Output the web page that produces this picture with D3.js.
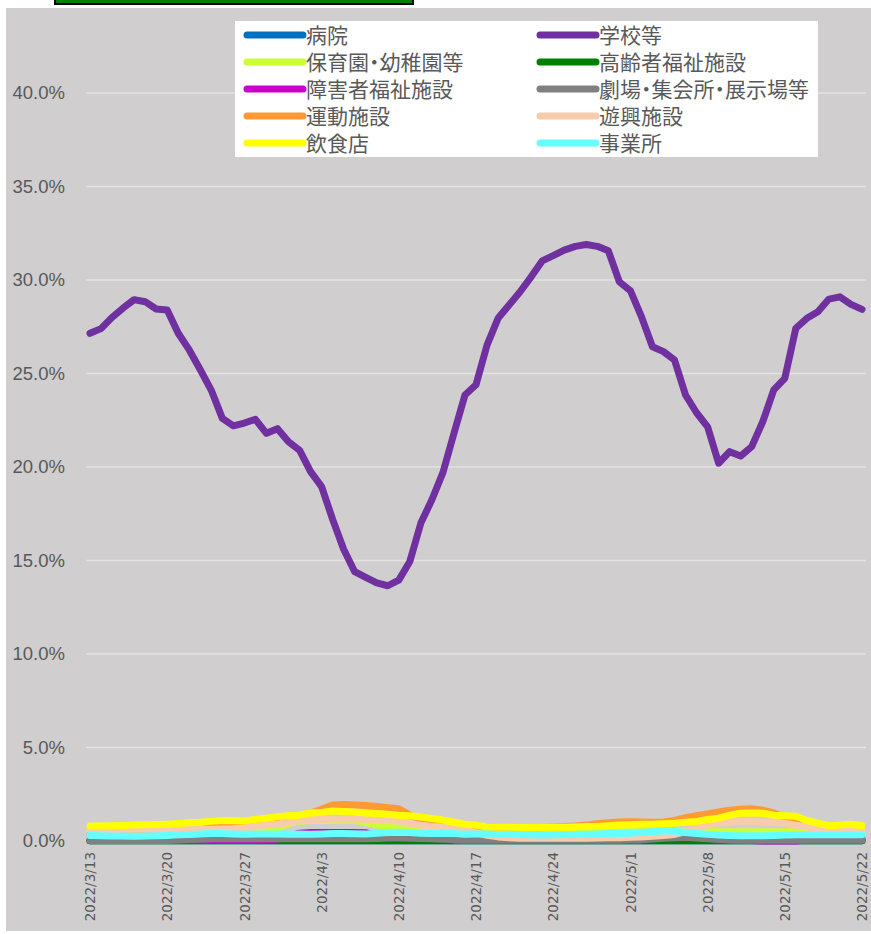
<!DOCTYPE html>
<html><head><meta charset="utf-8">
<script src="https://cdn.jsdelivr.net/npm/d3@7"></script>
<style>
body{margin:0;background:#fff;}
svg{display:block;}
</style></head>
<body>
<svg id="chart" width="871" height="934"></svg>
<script>
const startDate = "2022-03-13";
const endDate = "2022-05-22";
const tickLabels = ["2022/3/13","2022/3/20","2022/3/27","2022/4/3","2022/4/10","2022/4/17","2022/4/24","2022/5/1","2022/5/8","2022/5/15","2022/5/22"];
const yTicks = [0,5,10,15,20,25,30,35,40];

const seriesNames = ["病院","学校等","保育園・幼稚園等","高齢者福祉施設","障害者福祉施設","劇場・集会所・展示場等","運動施設","遊興施設","飲食店","事業所"];
const seriesColors = ["#0070C0","#7030A0","#CCFF33","#008000","#CC00CC","#808080","#FF9933","#F8CBAD","#FFFF00","#66FFFF"];

const hospital = [0.02,0.02,0.02,0.02,0.02,0.02,0.02,0.02,0.02,0.02,0.02,0.02,0.02,0.02,0.02,0.02,0.02,0.02,0.02,0.02,0.02,0.02,0.02,0.02,0.02,0.02,0.02,0.02,0.02,0.02,0.02,0.02,0.02,0.02,0.02,0.02,0.02,0.02,0.02,0.02,0.02,0.02,0.02,0.02,0.02,0.02,0.02,0.02,0.02,0.02,0.02,0.02,0.02,0.02,0.02,0.02,0.02,0.02,0.02,0.02,0.02,0.02,0.02,0.02,0.02,0.02,0.02,0.02,0.02,0.02,0.02];
const school = [27.15,27.4,28.0,28.5,28.95,28.84,28.45,28.4,27.15,26.26,25.2,24.1,22.6,22.2,22.35,22.55,21.8,22.05,21.35,20.9,19.75,18.95,17.2,15.6,14.4,14.1,13.8,13.65,13.95,14.95,17.0,18.25,19.7,21.8,23.85,24.4,26.52,27.95,28.66,29.37,30.17,31.02,31.3,31.6,31.8,31.9,31.8,31.56,29.9,29.43,28.04,26.43,26.17,25.72,23.85,22.9,22.15,20.2,20.82,20.59,21.09,22.42,24.12,24.74,27.42,27.95,28.3,28.98,29.1,28.7,28.43];
const nursery = [0.55,0.55,0.55,0.55,0.55,0.55,0.55,0.55,0.55,0.55,0.55,0.55,0.55,0.55,0.55,0.55,0.6,0.7,0.95,1.05,1.1,1.1,1.1,1.1,1.1,1.0,0.85,0.8,0.78,0.7,0.6,0.5,0.5,0.5,0.5,0.5,0.5,0.5,0.5,0.5,0.5,0.5,0.5,0.5,0.5,0.5,0.5,0.5,0.5,0.5,0.5,0.5,0.5,0.5,0.5,0.5,0.5,0.5,0.5,0.5,0.5,0.5,0.5,0.5,0.5,0.5,0.5,0.5,0.5,0.5,0.5];
const elderly = [0.01,0.01,0.01,0.01,0.01,0.01,0.01,0.01,0.01,0.01,0.01,0.01,0.01,0.01,0.01,0.01,0.01,0.01,0.01,0.01,0.01,0.01,0.01,0.01,0.01,0.01,0.01,0.01,0.01,0.01,0.01,0.01,0.01,0.01,0.01,0.01,0.01,0.01,0.01,0.01,0.01,0.01,0.01,0.01,0.01,0.01,0.01,0.01,0.01,0.01,0.01,0.01,0.01,0.01,0.01,0.01,0.01,0.01,0.01,0.01,0.01,0.01,0.01,0.01,0.01,0.01,0.01,0.01,0.01,0.01,0.01];
const disabled = [0.03,0.03,0.03,0.03,0.03,0.03,0.03,0.03,0.03,0.03,0.03,0.03,0.03,0.03,0.03,0.03,0.05,0.1,0.25,0.42,0.45,0.45,0.46,0.46,0.45,0.44,0.3,0.2,0.2,0.2,0.2,0.2,0.2,0.2,0.2,0.2,0.2,0.2,0.2,0.2,0.2,0.2,0.2,0.2,0.2,0.2,0.2,0.2,0.2,0.2,0.2,0.2,0.2,0.2,0.2,0.2,0.15,0.1,0.05,0.04,0.03,0.0,0.0,0.0,0.0,0.05,0.1,0.1,0.1,0.1,0.1];
const theater = [0.03,0.03,0.03,0.03,0.03,0.03,0.03,0.03,0.05,0.08,0.1,0.12,0.12,0.12,0.12,0.12,0.12,0.12,0.12,0.12,0.12,0.12,0.12,0.12,0.12,0.12,0.14,0.16,0.16,0.15,0.14,0.12,0.1,0.06,0.04,0.04,0.04,0.04,0.04,0.04,0.04,0.04,0.04,0.04,0.04,0.04,0.04,0.04,0.04,0.05,0.06,0.1,0.14,0.18,0.2,0.16,0.12,0.08,0.05,0.04,0.04,0.04,0.04,0.04,0.04,0.04,0.04,0.04,0.04,0.04,0.04];
const sports = [0.35,0.38,0.42,0.45,0.5,0.52,0.55,0.58,0.55,0.5,0.6,0.75,0.85,0.85,0.85,0.95,1.05,1.15,1.25,1.35,1.5,1.7,1.92,1.95,1.93,1.9,1.85,1.78,1.72,1.4,1.1,1.0,0.95,0.9,0.85,0.8,0.75,0.72,0.7,0.7,0.7,0.72,0.75,0.78,0.8,0.85,0.92,0.98,1.02,1.03,1.02,1.0,1.02,1.1,1.25,1.35,1.45,1.55,1.65,1.7,1.72,1.65,1.5,1.3,1.1,0.95,0.85,0.78,0.8,0.82,0.8];
const amusement = [0.6,0.6,0.62,0.62,0.63,0.63,0.63,0.62,0.62,0.63,0.63,0.63,0.64,0.66,0.7,0.78,0.85,0.9,1.0,1.1,1.15,1.15,1.17,1.18,1.17,1.16,1.15,1.12,1.05,0.95,0.85,0.78,0.75,0.7,0.6,0.45,0.3,0.22,0.18,0.15,0.15,0.15,0.15,0.15,0.15,0.15,0.16,0.18,0.18,0.2,0.22,0.25,0.3,0.35,0.5,0.7,0.85,0.95,1.0,1.05,1.05,1.02,1.0,0.95,0.85,0.75,0.65,0.6,0.58,0.58,0.6];
const restaurant = [0.8,0.8,0.82,0.83,0.85,0.87,0.88,0.9,0.93,0.97,1.0,1.05,1.1,1.08,1.07,1.15,1.22,1.3,1.35,1.38,1.5,1.52,1.6,1.58,1.55,1.5,1.47,1.43,1.38,1.35,1.28,1.2,1.12,1.0,0.9,0.85,0.75,0.73,0.73,0.72,0.72,0.72,0.73,0.74,0.75,0.77,0.78,0.82,0.85,0.87,0.9,0.9,0.92,0.95,1.0,1.05,1.15,1.22,1.38,1.48,1.5,1.48,1.38,1.35,1.32,1.1,0.95,0.82,0.85,0.9,0.82];
const office = [0.3,0.28,0.27,0.27,0.26,0.27,0.28,0.3,0.33,0.35,0.38,0.4,0.4,0.38,0.36,0.37,0.38,0.38,0.36,0.37,0.36,0.38,0.4,0.4,0.39,0.38,0.42,0.45,0.47,0.45,0.42,0.4,0.42,0.4,0.36,0.38,0.37,0.35,0.36,0.35,0.33,0.32,0.33,0.34,0.35,0.36,0.38,0.4,0.4,0.42,0.45,0.5,0.55,0.52,0.45,0.4,0.36,0.32,0.3,0.28,0.28,0.28,0.3,0.32,0.33,0.33,0.33,0.33,0.34,0.34,0.34];

const seriesValues = [hospital, school, nursery, elderly, disabled, theater, sports, amusement, restaurant, office];

const parse = d3.timeParse("%Y-%m-%d");
const dates = d3.timeDay.range(parse(startDate), d3.timeDay.offset(parse(endDate), 1));
const tickDates = tickLabels.map(s => d3.timeParse("%Y/%m/%d")(s));

const svg = d3.select("#chart");

// outer chart background
svg.append("rect").attr("x",6).attr("y",8).attr("width",865).attr("height",923).attr("fill","#D0CECE");
// cut-off title box at top
svg.append("rect").attr("x",55).attr("y",-10).attr("width",358).attr("height",14)
  .attr("fill","#008000").attr("stroke","#000").attr("stroke-width",2);

const x = d3.scaleTime().domain([dates[0], dates[dates.length-1]]).range([90, 862]);
const y = d3.scaleLinear().domain([0, 40]).range([841, 93]);

// gridlines
svg.append("g").selectAll("line").data(yTicks.filter(d=>d>0)).join("line")
  .attr("x1",86).attr("x2",866).attr("y1",d=>y(d)).attr("y2",d=>y(d))
  .attr("stroke","#E3E2E2").attr("stroke-width",1.5);

// y axis
const yAxis = d3.axisLeft(y).tickValues(yTicks).tickFormat(d=>d.toFixed(1)+"%").tickSize(0).tickPadding(0);
const yg = svg.append("g").attr("transform","translate(65,0)").call(yAxis);
yg.select(".domain").remove();
yg.selectAll("text").attr("fill","#595959").style("font-family","'Liberation Sans Narrow','Liberation Sans',sans-serif").style("font-size","18.5px");

// x axis
const xAxis = d3.axisBottom(x).tickValues(tickDates).tickFormat((d,i)=>tickLabels[i]).tickSize(0).tickPadding(0);
const xg = svg.append("g").attr("transform","translate(0,852)").call(xAxis);
xg.select(".domain").remove();
xg.selectAll("text").attr("fill","#595959")
  .style("font-family","'DejaVu Sans',sans-serif").style("font-size","13.5px")
  .attr("text-anchor","end").attr("transform","rotate(-90)").attr("x",0).attr("y",0).attr("dx",0).attr("dy","0.35em");

// lines
const line = d3.line().x((d,i)=>x(dates[i])).y(d=>y(d));
svg.append("g").selectAll("path").data(seriesValues).join("path")
  .attr("d", d=>line(d)).attr("fill","none")
  .attr("stroke",(d,i)=>seriesColors[i]).attr("stroke-width",7)
  .attr("stroke-linejoin","round").attr("stroke-linecap","round");

// legend
const lg = svg.append("g");
lg.append("rect").attr("x",235).attr("y",21).attr("width",583).attr("height",136).attr("fill","#fff");
const items = lg.selectAll("g.item").data(seriesNames).join("g").attr("class","item")
  .attr("transform",(d,i)=>`translate(${i%2===0?247:540},${35+Math.floor(i/2)*27})`);
items.append("line").attr("x1",0).attr("x2",56).attr("y1",0).attr("y2",0)
  .attr("stroke",(d,i)=>seriesColors[i]).attr("stroke-width",7).attr("stroke-linecap","round");
items.append("text").attr("x",59).attr("y",0).attr("dy","0.36em").text(d=>d)
  .attr("fill","#595959").style("font-family","'Noto Sans CJK JP',sans-serif").style("font-size","21px")
  .style("font-feature-settings","'palt'");
</script>
</body></html>
